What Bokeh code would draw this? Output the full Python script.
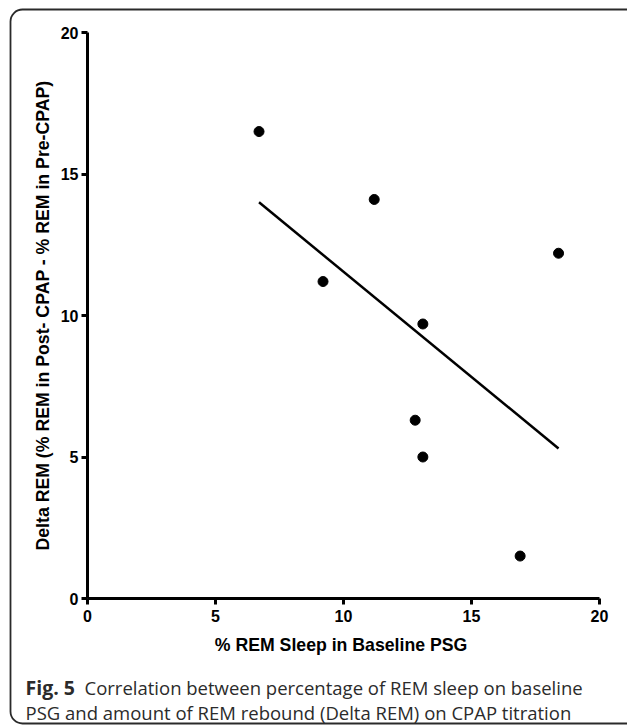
from bokeh.plotting import figure
from bokeh.models import Range1d, FixedTicker, Label, BoxAnnotation
from bokeh.embed import file_html
from bokeh.resources import INLINE

# ---- data ----
rem_baseline = [6.7, 9.2, 11.2, 12.8, 13.1, 13.1, 16.9, 18.4]
delta_rem = [16.5, 11.2, 14.1, 6.3, 9.7, 5.0, 1.5, 12.2]
fit_x = [6.7, 18.4]
fit_y = [14.0, 5.3]
x_ticks = [0, 5, 10, 15, 20]
y_ticks = [0, 5, 10, 15, 20]
x_lim = (0, 20)
y_lim = (0, 20)

x_label = "% REM Sleep in Baseline  PSG"
y_label = "Delta REM (% REM in Post- CPAP - % REM in Pre-CPAP)"
cap_bold = "Fig. 5"
cap_line1 = "Correlation between percentage of REM sleep on baseline"
cap_line2 = "PSG and amount of REM rebound (Delta REM) on CPAP titration"

# ---- layout (canvas pixels) ----
W, H = 627, 726
PL, PT, PW, PH = 87, 32, 512, 566      # plotting area of the axes

# frame covers the whole canvas; axes are fixed at 0 with bounds
sx = PW / (x_lim[1] - x_lim[0])
sy = PH / (y_lim[1] - y_lim[0])
xr = Range1d(x_lim[0] - PL / sx, x_lim[1] + (W - PL - PW) / sx)
yr = Range1d(y_lim[0] - (H - PT - PH) / sy, y_lim[1] + PT / sy)

p = figure(width=W, height=H, output_backend="svg", toolbar_location=None,
           x_range=xr, y_range=yr,
           min_border_left=0, min_border_top=0, min_border_right=0, min_border_bottom=0)
p.outline_line_color = None
p.grid.visible = False
p.background_fill_color = "white"
p.border_fill_color = "white"

# pixel-space helper ranges (value == canvas pixel)
p.extra_x_ranges = {"px": Range1d(0, W)}
p.extra_y_ranges = {"py": Range1d(H, 0)}

for ax in (p.xaxis[0], p.yaxis[0]):
    ax.fixed_location = 0
    ax.bounds = (0, 20)
    ax.axis_line_width = 3
    ax.axis_line_color = "black"
    ax.major_tick_line_width = 3
    ax.major_tick_line_color = "black"
    ax.major_tick_in = 0
    ax.major_tick_out = 6
    ax.minor_tick_line_color = None
    ax.major_label_text_font = "Liberation Sans"
    ax.major_label_text_font_style = "bold"
    ax.major_label_text_font_size = "16px"
    ax.major_label_text_color = "black"
    ax.axis_label_text_font = "Liberation Sans"
    ax.axis_label_text_font_style = "bold"
    ax.axis_label_text_font_size = "17.7px"
    ax.axis_label_text_color = "black"

p.xaxis.ticker = FixedTicker(ticks=x_ticks)
p.yaxis.ticker = FixedTicker(ticks=y_ticks)
p.xaxis.axis_label = x_label
p.yaxis.axis_label = y_label
p.xaxis.major_label_standoff = 5
p.yaxis.major_label_standoff = 3
p.xaxis.axis_label_standoff = 10
p.yaxis.axis_label_standoff = 5

p.line(fit_x, fit_y, line_color="black", line_width=2.5)
p.scatter(rem_baseline, delta_rem, size=10, fill_color="black", line_color="black")

# rounded border around figure + caption
border = BoxAnnotation(left=10, right=W + 30, top=9, bottom=723,
                       x_range_name="px", y_range_name="py",
                       fill_alpha=0, line_color="#2a2a2a", line_alpha=1.0, line_width=1.8,
                       border_radius=12, level="overlay")
p.add_layout(border)

cap_font = "Open Sans"
for txt, x, y, style, size in [(cap_bold, 25, 687, "bold", "19.5px"),
                               (cap_line1, 84, 687, "normal", "18.5px"),
                               (cap_line2, 25, 712, "normal", "18.5px")]:
    p.add_layout(Label(x=x, y=y, x_range_name="px", y_range_name="py",
                       text=txt, text_font=cap_font, text_font_style=style,
                       text_font_size=size, text_color="#2b2b2b",
                       text_baseline="alphabetic"))

open("out.html", "w").write(file_html(p, INLINE))
